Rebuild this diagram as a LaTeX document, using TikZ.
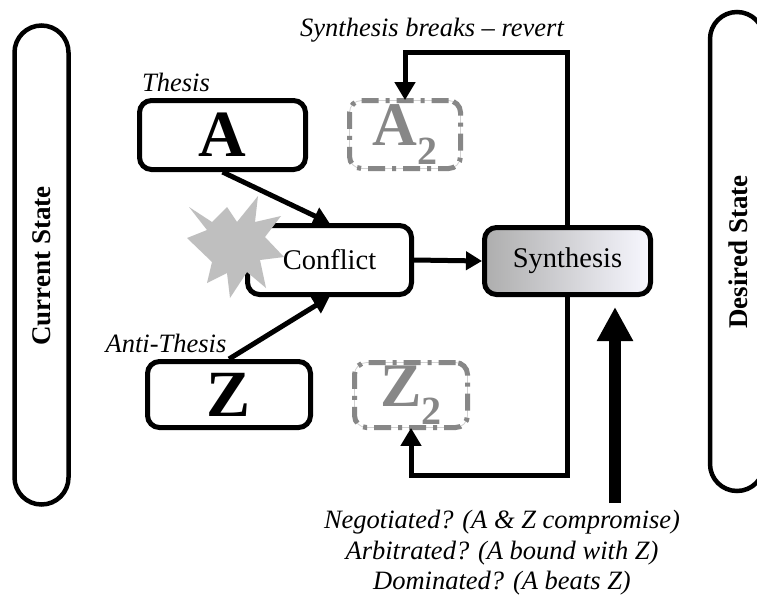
\documentclass[tikz,border=0pt]{standalone}
\usepackage{fontspec}
\setmainfont{Liberation Serif}
\usetikzlibrary{arrows.meta,calc}
\begin{document}
\begin{tikzpicture}[x=1pt,y=-1pt,
  box/.style={draw,line width=5pt,rounded corners=12pt,fill=white,inner sep=0pt},
  ghost/.style={draw=black!18,line width=0.8pt,rounded corners=12pt,inner sep=0pt,text=black!47,
    postaction={draw=black!47,line width=5pt,dash pattern=on 17pt off 7pt on 4pt off 7pt}},
  pill/.style={draw,line width=4.5pt,rounded corners=27pt,minimum width=54pt,minimum height=479pt,inner sep=0pt},
  pilltext/.style={font=\fontsize{27}{28}\selectfont\bfseries,inner sep=0pt},
  lbl/.style={font=\fontsize{28.5}{30}\selectfont,inner sep=0pt},
  ilbl/.style={font=\fontsize{26.5}{30}\selectfont\itshape,inner sep=0pt},
  conn/.style={line width=5pt,-{Triangle[length=16pt,width=18pt]}},
  fb/.style={line width=5pt,-{Triangle[length=18pt,width=20pt]}},
  big/.style={font=\fontsize{66}{70}\selectfont\bfseries}
]
\useasboundingbox[fill=white] (0,0) rectangle (757,600);
% side pills
\node[pill] (cur) at (41.5,265) {};
\node[pilltext,rotate=90] (curt) at (41.5,266) {Current State};
\node[pill] (des) at (737,251.5) {};
\node[pilltext,rotate=90] (dest) at (738,252) {Desired State};
% labels
\node[ilbl] (th) at (176,82) {Thesis};
\node[ilbl] (ath) at (166,343) {Anti-Thesis};
\node[ilbl] (rev) at (432,30) {Synthesis breaks -- revert};
% boxes
\node[box,minimum width=166pt,minimum height=69pt,big] (A) at (222.5,135) {A};
\node[box,minimum width=163pt,minimum height=66pt,big] (Z) at (229,394.5) {Z};
\node[ghost,minimum width=111pt,minimum height=68pt,font=\fontsize{62}{66}\selectfont\bfseries] (A2) at (405,134.5)
  {A\raisebox{-0.3em}{\fontsize{40}{40}\selectfont 2}};
\node[ghost,minimum width=113pt,minimum height=65pt,font=\fontsize{62}{66}\selectfont\bfseries] (Z2) at (411,395)
  {Z\raisebox{-0.3em}{\fontsize{40}{40}\selectfont 2}};
\node[box,minimum width=164pt,minimum height=69pt,lbl] (C) at (329.5,260) {Conflict};
\node[box,minimum width=166pt,minimum height=67pt,lbl,left color=black!32,middle color=white,right color=blue!3] (S) at (567.5,261) {Synthesis};
% starburst
\fill[black!25] (189,207) -- (212,222) -- (227,207) -- (237,222) -- (258,196) -- (255,222)
  -- (281,216) -- (265,237) -- (284,257) -- (260,260) -- (266,288) -- (247,272)
  -- (230,298) -- (227,273) -- (207,283) -- (212,262) -- (187,238) -- (207,230) -- cycle;
% connectors
\draw[conn] (A.south) -- (C.north);
\draw[conn] (Z.north) -- (C.south);
\draw[conn] (C.east) -- (S.west);
\draw[fb] (S.north) |- ($(A2.north)+(0,-47.5)$) -- (A2.north);
\draw[fb] (S.south) |- ($(Z2.south)+(0,47.5)$) -- (Z2.south);
% outcomes
\node[ilbl,align=center,font=\fontsize{26.5}{30.5}\selectfont\itshape] (out) at (502,553)
  {Negotiated? (A \& Z compromise)\\Arbitrated? (A bound with Z)\\Dominated? (A beats Z)};
\coordinate (bb) at (615,503);
\coordinate (bt) at (615,307);
\draw[line width=12pt,-{Triangle[length=34pt,width=34pt]}] (bb) -- (bt);
\end{tikzpicture}
\end{document}
